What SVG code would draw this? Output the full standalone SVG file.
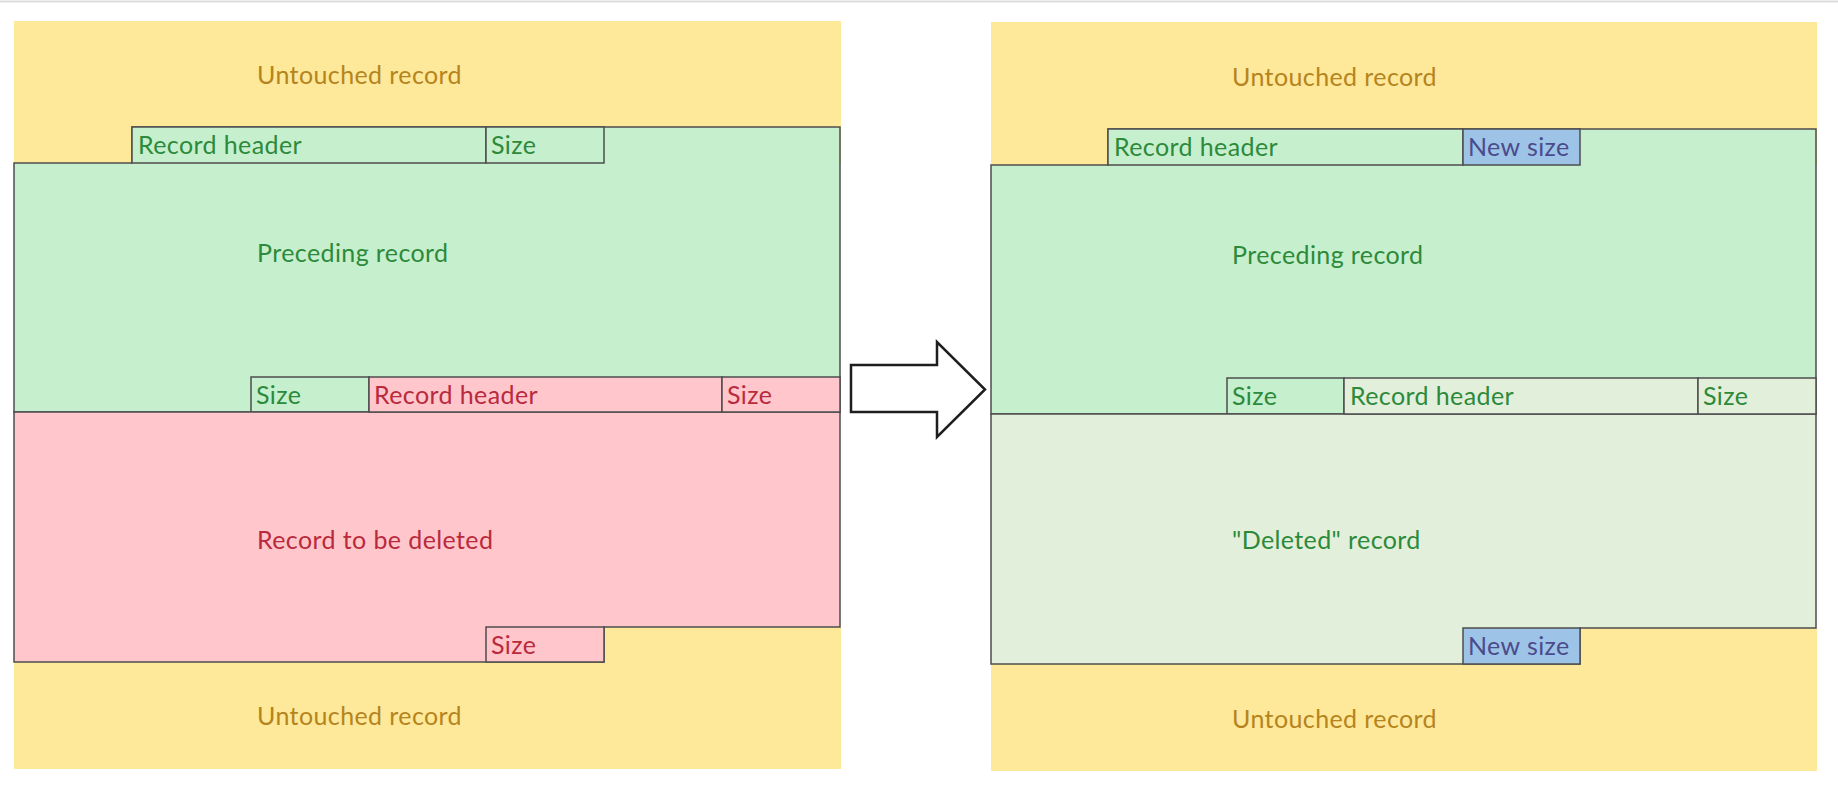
<svg xmlns="http://www.w3.org/2000/svg" width="1838" height="810" viewBox="0 0 1838 810">
<style>
  text { font-family: Lato, "Open Sans", "Liberation Sans", sans-serif; font-size: 25px; letter-spacing: 0.4px; }
  .yel { fill: #FEE89A; stroke: none; }
  .grn { fill: #C6EFCE; stroke: #4d4d4d; stroke-width: 1.5; }
  .pnk { fill: #FFC6CC; stroke: #4d4d4d; stroke-width: 1.5; }
  .lgr { fill: #E2EFDA; stroke: #4d4d4d; stroke-width: 1.5; }
  .blu { fill: #9DC3E6; stroke: #4d4d4d; stroke-width: 1.5; }
  .ty { fill: #B5841C; }
  .tg { fill: #2C8A3A; }
  .tr { fill: #B82A3C; }
  .tb { fill: #4B4B8C; }
  .arrow { fill: #FFFFFF; stroke: #1e1e1e; stroke-width: 2.5; stroke-linejoin: miter; }
</style>
<rect x="0" y="0" width="1838" height="810" fill="#FFFFFF"/>
<line x1="0" y1="1.5" x2="1838" y2="1.5" stroke="#dcdcdc" stroke-width="2"/>

<!-- LEFT PANEL -->
<g id="left-untouched-top">
  <rect class="yel" x="14" y="21" width="827" height="142"/>
  <text class="ty" x="257" y="84">Untouched record</text>
</g>
<g id="left-untouched-bottom">
  <rect class="yel" x="14" y="627" width="827" height="142"/>
  <text class="ty" x="257" y="725">Untouched record</text>
</g>
<g id="left-preceding-record">
  <polygon class="grn" points="14,163 132,163 132,127 840,127 840,412 14,412"/>
  <text class="tg" x="257" y="262">Preceding record</text>
</g>
<g id="left-preceding-header">
  <rect class="grn" x="132" y="127" width="354" height="36"/>
  <text class="tg" x="138" y="154">Record header</text>
</g>
<g id="left-preceding-size-top">
  <rect class="grn" x="486" y="127" width="118" height="36"/>
  <text class="tg" x="491" y="154">Size</text>
</g>
<g id="left-preceding-size-bottom">
  <rect class="grn" x="251" y="377" width="118" height="35"/>
  <text class="tg" x="256" y="404">Size</text>
</g>
<g id="left-deleted-record">
  <polygon class="pnk" points="14,412 840,412 840,627 604,627 604,662 14,662"/>
  <text class="tr" x="257" y="549">Record to be deleted</text>
</g>
<g id="left-deleted-header">
  <rect class="pnk" x="369" y="377" width="353" height="35"/>
  <text class="tr" x="374" y="404">Record header</text>
</g>
<g id="left-deleted-size-top">
  <rect class="pnk" x="722" y="377" width="118" height="35"/>
  <text class="tr" x="727" y="404">Size</text>
</g>
<g id="left-deleted-size-bottom">
  <rect class="pnk" x="486" y="627" width="118" height="35"/>
  <text class="tr" x="491" y="654">Size</text>
</g>

<!-- RIGHT PANEL -->
<g id="right-untouched-top">
  <rect class="yel" x="991" y="22" width="826" height="143"/>
  <text class="ty" x="1232" y="86">Untouched record</text>
</g>
<g id="right-untouched-bottom">
  <rect class="yel" x="991" y="628" width="826" height="143"/>
  <text class="ty" x="1232" y="728">Untouched record</text>
</g>
<g id="right-preceding-record">
  <polygon class="grn" points="991,165 1108,165 1108,129 1816,129 1816,414 991,414"/>
  <text class="tg" x="1232" y="264">Preceding record</text>
</g>
<g id="right-preceding-header">
  <rect class="grn" x="1108" y="129" width="355" height="36"/>
  <text class="tg" x="1114" y="156">Record header</text>
</g>
<g id="right-preceding-newsize-top">
  <rect class="blu" x="1463" y="129" width="117" height="36"/>
  <text class="tb" x="1468" y="156">New size</text>
</g>
<g id="right-preceding-size-bottom">
  <rect class="grn" x="1227" y="378" width="117" height="36"/>
  <text class="tg" x="1232" y="405">Size</text>
</g>
<g id="right-deleted-record">
  <polygon class="lgr" points="991,414 1816,414 1816,628 1580,628 1580,664 991,664"/>
  <text class="tg" x="1232" y="549">"Deleted" record</text>
</g>
<g id="right-deleted-header">
  <rect class="lgr" x="1344" y="378" width="354" height="36"/>
  <text class="tg" x="1350" y="405">Record header</text>
</g>
<g id="right-deleted-size-top">
  <rect class="lgr" x="1698" y="378" width="118" height="36"/>
  <text class="tg" x="1703" y="405">Size</text>
</g>
<g id="right-deleted-newsize-bottom">
  <rect class="blu" x="1463" y="628" width="117" height="36"/>
  <text class="tb" x="1468" y="655">New size</text>
</g>

<g id="connectors">
  <polygon class="arrow" points="851,365 937,365 937,342 985,389.5 937,437 937,412 851,412"/>
</g>
</svg>
